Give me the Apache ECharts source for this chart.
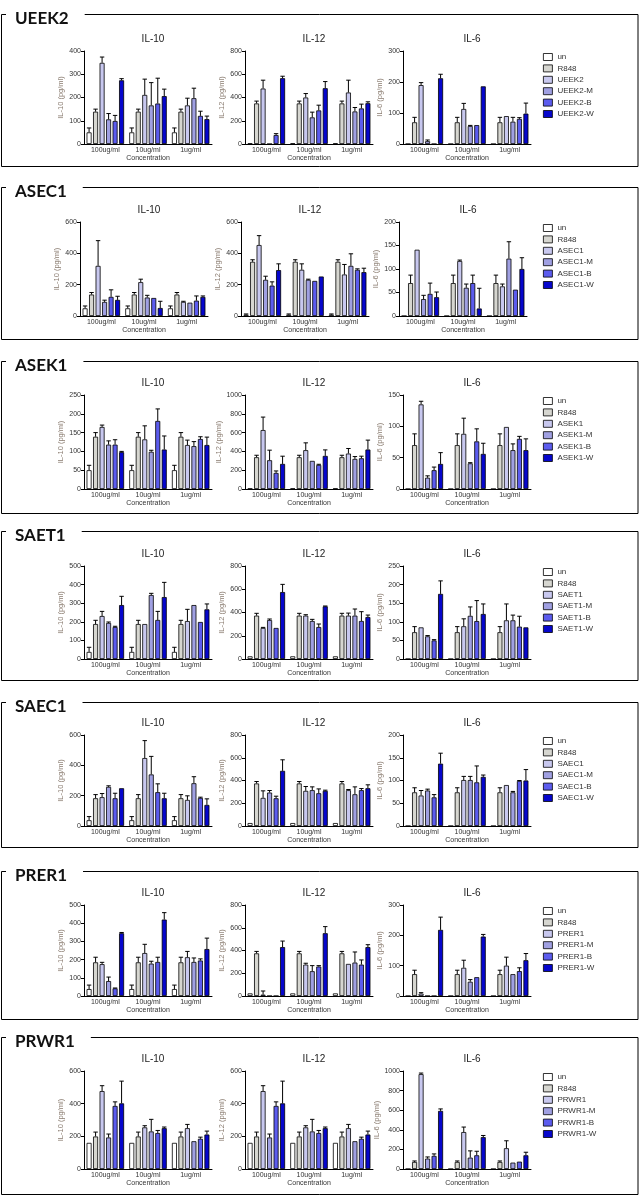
<!DOCTYPE html>
<html>
<head>
<meta charset="utf-8">
<script src="https://cdn.jsdelivr.net/npm/echarts@6/dist/echarts.min.js"></script>
<style>
html,body{margin:0;padding:0;background:#fff;}
#chart{width:642px;height:1198px;}
</style>
</head>
<body>
<div id="chart"></div>
<script>
// ---------------- DATA ----------------
const panelNames = ['UEEK2', 'ASEC1', 'ASEK1', 'SAET1', 'SAEC1', 'PRER1', 'PRWR1'];
const cytokines = ['IL-10', 'IL-12', 'IL-6'];
const yAxisNames = ['IL-10 (pg/ml)', 'IL-12 (pg/ml)', 'IL-6 (pg/ml)'];
const categories = ['100ug/ml', '10ug/ml', '1ug/ml'];
const xAxisName = 'Concentration';
// y-axis ranges [IL-10, IL-12, IL-6] per panel
const yAxisMax = [[400, 800, 300], [600, 600, 200], [250, 1000, 150], [500, 800, 250], [600, 800, 200], [500, 800, 300], [600, 600, 1000]];
const yAxisStep = [[100, 200, 100], [200, 200, 50], [50, 200, 50], [100, 200, 50], [200, 200, 50], [100, 200, 100], [200, 200, 200]];

// values: [group 100ug, 10ug, 1ug] x [un, R848, sample, -M, -B, -W]
const UEEK2_IL10 = [[50, 139, 349, 106, 99, 274], [50, 139, 211, 166, 174, 206], [50, 139, 166, 197, 121, 107]];
const UEEK2_IL10_err = [[19, 11, 25, 25, 24, 7], [19, 11, 68, 98, 109, 30], [19, 11, 31, 43, 20, 13]];
const UEEK2_IL12 = [[5, 349, 477, 0, 77, 566], [5, 349, 400, 229, 289, 480], [5, 349, 443, 280, 306, 351]];
const UEEK2_IL12_err = [[0, 20, 72, 0, 12, 17], [0, 20, 34, 45, 45, 57], [0, 20, 106, 34, 37, 12]];
const UEEK2_IL6 = [[0, 70, 190, 9, 0, 212], [0, 70, 113, 58, 61, 186], [0, 70, 90, 72, 81, 98]];
const UEEK2_IL6_err = [[0, 16, 8, 4, 0, 13], [0, 16, 18, 2, 0, 0], [0, 16, 0, 14, 4, 34]];

const ASEC1_IL10 = [[49, 137, 320, 90, 122, 103], [49, 137, 216, 118, 115, 51], [49, 137, 90, 85, 98, 122]];
const ASEC1_IL10_err = [[15, 13, 161, 11, 45, 23], [15, 13, 19, 14, 0, 43], [15, 13, 4, 0, 30, 6]];
const ASEC1_IL12 = [[9, 346, 453, 231, 194, 293], [9, 346, 295, 231, 224, 252], [9, 346, 265, 320, 295, 280]];
const ASEC1_IL12_err = [[4, 13, 60, 23, 24, 40], [4, 13, 38, 4, 0, 0], [4, 13, 64, 77, 6, 25]];
const ASEC1_IL6 = [[0, 70, 141, 36, 47, 40], [0, 70, 117, 60, 70, 16], [0, 70, 63, 122, 56, 100]];
const ASEC1_IL6_err = [[0, 17, 0, 8, 23, 11], [0, 17, 2, 8, 17, 43], [0, 17, 5, 36, 0, 24]];

const ASEK1_IL10 = [[50, 139, 165, 118, 118, 98], [50, 139, 132, 99, 181, 105], [50, 139, 117, 114, 133, 117]];
const ASEK1_IL10_err = [[13, 11, 5, 10, 13, 2], [13, 11, 36, 4, 32, 36], [13, 11, 13, 12, 6, 21]];
const ASEK1_IL12 = [[5, 338, 627, 306, 171, 267], [5, 338, 413, 299, 256, 352], [5, 338, 377, 320, 327, 420]];
const ASEK1_IL12_err = [[0, 21, 138, 107, 21, 82], [0, 21, 78, 0, 7, 64], [0, 21, 54, 25, 22, 100]];
const ASEK1_IL6 = [[0, 70, 135, 18, 30, 40], [0, 70, 88, 41, 76, 56], [0, 70, 99, 62, 80, 62]];
const ASEK1_IL6_err = [[0, 18, 5, 3, 5, 18], [0, 18, 25, 1, 20, 17], [0, 18, 0, 10, 4, 18]];

const SAET1_IL10 = [[38, 188, 231, 194, 172, 290], [38, 188, 188, 344, 210, 333], [38, 188, 204, 290, 199, 267]];
const SAET1_IL10_err = [[25, 20, 25, 5, 4, 47], [25, 20, 0, 9, 46, 79], [25, 20, 63, 0, 0, 29]];
const SAET1_IL12 = [[23, 373, 267, 335, 267, 576], [23, 373, 373, 327, 275, 453], [23, 373, 373, 373, 327, 361]];
const SAET1_IL12_err = [[0, 20, 5, 9, 0, 66], [0, 20, 8, 14, 26, 3], [0, 20, 22, 57, 80, 17]];
const SAET1_IL6 = [[0, 72, 85, 61, 50, 175], [0, 72, 88, 116, 102, 121], [0, 72, 104, 104, 87, 85]];
const SAET1_IL6_err = [[0, 15, 0, 2, 2, 35], [0, 15, 20, 24, 55, 27], [0, 15, 44, 14, 28, 0]];

const SAEC1_IL10 = [[38, 183, 190, 258, 183, 249], [38, 183, 448, 340, 223, 183], [38, 183, 172, 282, 185, 139]];
const SAEC1_IL10_err = [[24, 24, 24, 7, 33, 0], [24, 24, 115, 119, 55, 33], [24, 24, 27, 43, 5, 40]];
const SAEC1_IL12 = [[26, 374, 247, 294, 244, 485], [26, 374, 309, 315, 288, 309], [26, 374, 315, 279, 315, 332]];
const SAEC1_IL12_err = [[0, 17, 62, 18, 18, 97], [0, 17, 38, 29, 38, 6], [0, 17, 6, 65, 14, 30]];
const SAEC1_IL6 = [[0, 74, 67, 78, 63, 137], [0, 74, 101, 101, 96, 108], [0, 74, 90, 74, 99, 100]];
const SAEC1_IL6_err = [[0, 10, 11, 3, 6, 23], [0, 10, 8, 8, 36, 4], [0, 10, 0, 2, 1, 24]];

const PRER1_IL10 = [[38, 185, 175, 82, 42, 345], [38, 185, 236, 178, 187, 420], [38, 185, 213, 187, 195, 258]];
const PRER1_IL10_err = [[22, 28, 10, 22, 2, 4], [22, 28, 48, 13, 26, 38], [22, 28, 32, 22, 9, 60]];
const PRER1_IL12 = [[23, 375, 12, 0, 0, 430], [23, 375, 276, 218, 259, 552], [23, 375, 282, 294, 276, 430]];
const PRER1_IL12_err = [[0, 17, 32, 0, 0, 53], [0, 17, 12, 49, 8, 58], [0, 17, 0, 93, 41, 21]];
const PRER1_IL6 = [[0, 72, 8, 0, 0, 218], [0, 72, 93, 47, 62, 196], [0, 72, 100, 72, 82, 118]];
const PRER1_IL6_err = [[0, 13, 3, 0, 0, 42], [0, 13, 25, 7, 0, 7], [0, 13, 28, 0, 11, 22]];

const PRWR1_IL10 = [[160, 199, 477, 193, 386, 402], [160, 199, 255, 230, 220, 250], [160, 199, 250, 170, 185, 211]];
const PRWR1_IL10_err = [[0, 27, 33, 21, 25, 136], [0, 27, 10, 74, 16, 7], [0, 27, 23, 0, 10, 21]];
const PRWR1_IL12 = [[160, 199, 477, 193, 386, 402], [160, 199, 255, 230, 220, 250], [160, 199, 250, 170, 185, 211]];
const PRWR1_IL12_err = [[0, 27, 33, 21, 25, 136], [0, 27, 10, 74, 16, 7], [0, 27, 23, 0, 10, 21]];
const PRWR1_IL6 = [[0, 72, 968, 106, 134, 593], [0, 72, 377, 116, 140, 325], [0, 72, 212, 65, 75, 140]];
const PRWR1_IL6_err = [[0, 10, 11, 17, 20, 20], [0, 10, 51, 69, 41, 17], [0, 10, 76, 0, 0, 31]];

const panelValues = [
  [UEEK2_IL10, UEEK2_IL12, UEEK2_IL6], [ASEC1_IL10, ASEC1_IL12, ASEC1_IL6], [ASEK1_IL10, ASEK1_IL12, ASEK1_IL6],
  [SAET1_IL10, SAET1_IL12, SAET1_IL6], [SAEC1_IL10, SAEC1_IL12, SAEC1_IL6], [PRER1_IL10, PRER1_IL12, PRER1_IL6],
  [PRWR1_IL10, PRWR1_IL12, PRWR1_IL6]];
const panelErrors = [
  [UEEK2_IL10_err, UEEK2_IL12_err, UEEK2_IL6_err], [ASEC1_IL10_err, ASEC1_IL12_err, ASEC1_IL6_err], [ASEK1_IL10_err, ASEK1_IL12_err, ASEK1_IL6_err],
  [SAET1_IL10_err, SAET1_IL12_err, SAET1_IL6_err], [SAEC1_IL10_err, SAEC1_IL12_err, SAEC1_IL6_err], [PRER1_IL10_err, PRER1_IL12_err, PRER1_IL6_err],
  [PRWR1_IL10_err, PRWR1_IL12_err, PRWR1_IL6_err]];

// ---------------- LAYOUT / STYLE ----------------
const seriesColors = ['#ffffff', '#d6d6d0', '#c8c8ef', '#a0a0e2', '#5c5cee', '#0606cc'];
const frameTop = [14, 187, 361, 531, 702, 871, 1037];
const frameBottom = [166, 339, 513, 680, 847, 1019, 1194];
const gridTop = [51, 222, 395, 566, 735, 905, 1071];
const gridBottom = [144, 316, 489, 659, 826, 996, 1169];
const panelDx = [0, -4, 0, 0, 0, 0, 0];
const gridLeft = [84, 245, 403];
const gridWidth = 128;
const BAR_W = 5, BAR_GAP_PX = 1.5;
const smallFont = 'Liberation Sans';

function seriesNames(p) {
  const n = panelNames[p];
  return ['un', 'R848', n, n + '-M', n + '-B', n + '-W'];
}

const grids = [], xAxes = [], yAxes = [], series = [], titles = [], legends = [], graphics = [];

for (let p = 0; p < panelNames.length; p++) {
  graphics.push({
    type: 'rect', z: 0,
    shape: { x: 1.5, y: frameTop[p] + 0.5, width: 636.5, height: frameBottom[p] - frameTop[p] },
    style: { fill: null, stroke: '#000', lineWidth: 1 }
  });
  titles.push({
    text: panelNames[p], left: 6, top: frameTop[p] - 5,
    padding: [1, 16, 1, 9], backgroundColor: '#fff',
    textStyle: { fontFamily: 'Lato', fontWeight: 'bold', fontSize: 17, color: '#111' }
  });
  const names = seriesNames(p);
  legends.push({
    data: names, orient: 'vertical', left: 543, top: gridTop[p] + 2,
    itemWidth: 9, itemHeight: 7, itemGap: 3.4, itemStyle: { borderColor: '#000', borderWidth: 0.8 },
    textStyle: { fontFamily: smallFont, fontSize: 8, color: '#333' }, icon: 'rect', selectedMode: false,
    padding: 0
  });
  for (let c = 0; c < 3; c++) {
    const g = p * 3 + c;
    const left = gridLeft[c] + panelDx[p];
    grids.push({ left: left, top: gridTop[p], width: gridWidth, height: gridBottom[p] - gridTop[p] });
    titles.push({
      text: cytokines[c], left: left + gridWidth / 2, top: gridTop[p] - 22, textAlign: 'center',
      textStyle: { fontFamily: smallFont, fontWeight: 'normal', fontSize: 10, color: '#222' }
    });
    xAxes.push({
      type: 'category', gridIndex: g, data: categories,
      name: xAxisName, nameLocation: 'middle', nameGap: 11,
      nameTextStyle: { fontFamily: smallFont, fontSize: 7, color: '#333' },
      axisLine: { lineStyle: { color: '#000', width: 1 } },
      axisTick: { show: false },
      axisLabel: { fontFamily: smallFont, fontSize: 7, color: '#333', margin: 3, interval: 0 }
    });
    yAxes.push({
      type: 'value', gridIndex: g, min: 0, max: yAxisMax[p][c], interval: yAxisStep[p][c],
      name: yAxisNames[c], nameLocation: 'middle', nameGap: 19, nameRotate: 90,
      nameTextStyle: { fontFamily: smallFont, fontSize: 7.5, color: '#8a7c70' },
      axisLine: { show: true, lineStyle: { color: '#000', width: 1 } },
      axisTick: { show: true, length: 3, lineStyle: { color: '#000' } },
      splitLine: { show: false },
      axisLabel: { fontFamily: smallFont, fontSize: 7, color: '#333', margin: 3, formatter: v => String(v) }
    });
    const vals = panelValues[p][c];
    const errs = panelErrors[p][c];
    for (let s = 0; s < 6; s++) {
      series.push({
        type: 'bar', name: names[s], xAxisIndex: g, yAxisIndex: g,
        data: vals.map(row => row[s]),
        barWidth: BAR_W, barGap: (BAR_GAP_PX / BAR_W * 100) + '%',
        itemStyle: { color: seriesColors[s], borderColor: '#000', borderWidth: 0.8 },
        silent: true, animation: false
      });
    }
    const errData = [];
    for (let gi = 0; gi < 3; gi++) for (let s = 0; s < 6; s++) {
      if (errs[gi][s] > 0) errData.push([gi, s, vals[gi][s], errs[gi][s]]);
    }
    series.push({
      type: 'custom', xAxisIndex: g, yAxisIndex: g, silent: true, animation: false, z: 5,
      encode: { x: 0, y: 2 },
      data: errData,
      renderItem: function (params, api) {
        const gi = api.value(0), si = api.value(1), v = api.value(2), e = api.value(3);
        const base = api.coord([gi, v]);
        const top = api.coord([gi, v + e]);
        const x = base[0] + (si - 2.5) * (BAR_W + BAR_GAP_PX);
        return {
          type: 'group', children: [
            { type: 'line', shape: { x1: x, y1: base[1], x2: x, y2: top[1] }, style: { stroke: '#000', lineWidth: 1 } },
            { type: 'line', shape: { x1: x - 2.2, y1: top[1], x2: x + 2.2, y2: top[1] }, style: { stroke: '#000', lineWidth: 1 } }
          ]
        };
      }
    });
  }
}

const chart = echarts.init(document.getElementById('chart'), null, { renderer: 'canvas' });
chart.setOption({
  animation: false,
  backgroundColor: '#fff',
  title: titles,
  legend: legends,
  grid: grids,
  xAxis: xAxes,
  yAxis: yAxes,
  series: series,
  graphic: graphics
});
</script>
</body>
</html>
